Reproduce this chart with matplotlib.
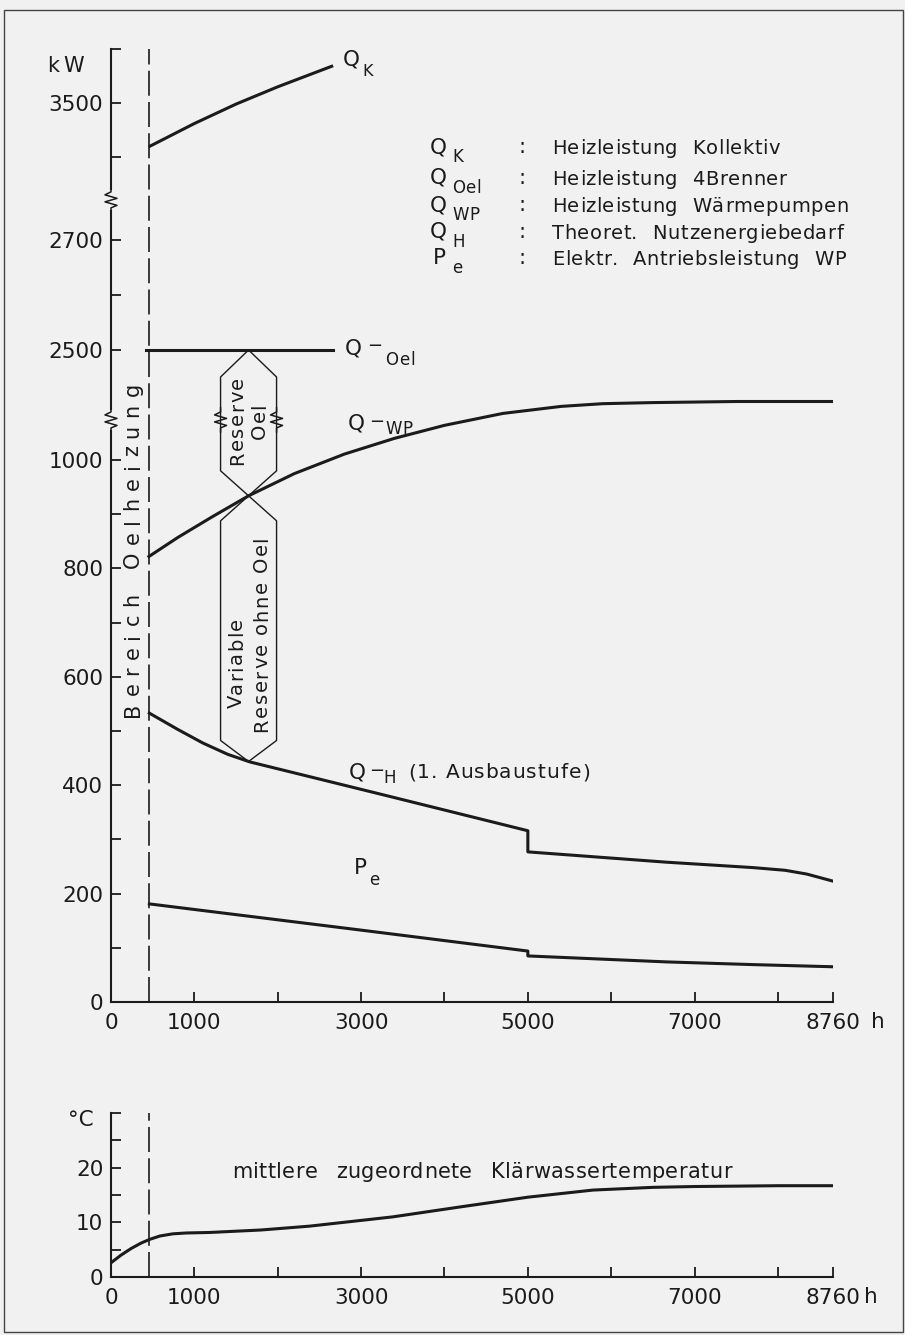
import numpy as np
import matplotlib
matplotlib.use("Agg")
import matplotlib.pyplot as plt
from matplotlib.transforms import IdentityTransform
from matplotlib.lines import Line2D
from matplotlib.patches import Rectangle, Polygon
from matplotlib import font_manager
from matplotlib.ft2font import FT2Font

FONT = 'DejaVu Sans'
plt.rcParams['font.family'] = [FONT]
plt.rcParams['lines.scale_dashes'] = False

# ---------------- data ----------------
hours_qk = [467, 1000, 1500, 2000, 2647]
q_k = [3420, 3462, 3498, 3530, 3568]

hours_qoel = [420, 2660]
q_oel = [2500, 2500]

hours_qwp = [455, 800, 1200, 1650, 2200, 2800, 3400, 4000, 4700, 5400,
             5900, 6500, 7500, 8760]
q_wp = [822, 857, 894, 934, 975, 1011, 1040, 1064, 1086, 1099,
        1104, 1106, 1108, 1108]

hours_qh = [460, 800, 1100, 1400, 1665, 3220, 5000, 5000, 6660, 7700, 8100, 8400, 8760]
q_h = [533, 503, 478, 457, 443, 384, 316, 277, 258, 248, 243, 236, 223]

hours_pe = [460, 2980, 5000, 5000, 6660, 7700, 8760]
p_e = [181, 133, 94, 85, 74, 69, 65]

hours_t = [0, 120, 240, 360, 467, 587, 743, 900, 1190, 1800, 2380, 3380,
           4180, 5000, 5780, 6500, 7000, 8000, 8760]
temp_c = [2.6, 4.0, 5.2, 6.2, 6.9, 7.5, 7.9, 8.05, 8.15, 8.6, 9.3, 11.0,
          12.8, 14.6, 15.9, 16.4, 16.55, 16.7, 16.7]

oil_limit_h = 460        # dashed line "Bereich Oelheizung"
reserve_h = 1650         # position of the reserve markers

kw_ticks = [0, 100, 200, 300, 400, 500, 600, 700, 800, 900, 1000,
            2500, 2600, 2700, 3400, 3500, 3600]
kw_labels = ['0', '', '200', '', '400', '', '600', '', '800', '', '1000',
             '2500', '', '2700', '', '3500', '']
h_ticks = [0, 1000, 2000, 3000, 4000, 5000, 6000, 7000, 8000, 8760]
h_labels = ['0', '1000', '', '3000', '', '5000', '', '7000', '', '8760']
t_ticks = [0, 5, 10, 15, 20, 25, 30]
t_labels = ['0', '', '10', '', '20', '', '']

legend_sym = [('Q', 'K'), ('Q', 'Oel'), ('Q', 'WP'), ('Q', 'H'), ('P', 'e')]
legend_txt = ['Heizleistung Kollektiv', 'Heizleistung 4Brenner',
              'Heizleistung Wärmepumpen', 'Theoret. Nutzenergiebedarf',
              'Elektr. Antriebsleistung WP']

# ---------------- styling ----------------
BG = '#f1f1f1'
INK = '#1b1b1b'
W, H = 905, 1335

# broken y scale (piecewise linear) and slightly compressed end of x axis
Y_V = [0, 1120, 2420, 2790, 3340, 3620]
Y_U = [0, 607.0, 608.0, 811.5, 812.6, 963.8]
X_V = [0, 8000, 8760]
X_U = [0, 8000, 8660]


def yf(v):
    return np.interp(v, Y_V, Y_U)


def yi(u):
    return np.interp(u, Y_U, Y_V)


def xf(v):
    return np.interp(v, X_V, X_U)


def xi(u):
    return np.interp(u, X_U, X_V)


fig = plt.figure(figsize=(W / 100, H / 100), dpi=100, facecolor=BG)


def fx(px):
    return px / W


def fy(py):
    return 1 - py / H


def ftext(xp, yp, s, size=14, **kw):
    kw.setdefault('va', 'center')
    kw.setdefault('ha', 'left')
    return fig.text(fx(xp), fy(yp), s, fontsize=size, color=INK, **kw)


_ft = FT2Font(font_manager.findfont(font_manager.FontProperties(family=FONT)))


def adv(ch, size):
    _ft.set_size(size, 100)
    g = _ft.load_char(ord(ch))
    return g.linearHoriAdvance / 65536.0


def tracked(xp, yp, s, size, track=0.0, space=None, rotation=0, ha='left'):
    """letter-spaced text; yp (or xp when rotated) is the centre of the caps"""
    advs = [(space if (c == ' ' and space is not None) else adv(c, size)) for c in s]
    total = sum(advs) + track * (len(s) - 1)
    pos = {'left': 0.0, 'center': -total / 2, 'right': -total}[ha]
    em = size * 100 / 72
    for c, a in zip(s, advs):
        if c != ' ':
            if rotation == 0:
                fig.text(fx(xp + pos), fy(yp + 0.365 * em), c, fontsize=size,
                         color=INK, ha='left', va='baseline')
            else:
                fig.text(fx(xp + 0.365 * em), fy(yp - pos), c, fontsize=size,
                         color=INK, ha='left', va='baseline', rotation=90,
                         rotation_mode='anchor')
        pos += a + track


def style_axes(a):
    a.set_facecolor('none')
    for side in ('top', 'right'):
        a.spines[side].set_visible(False)
    for side in ('left', 'bottom'):
        a.spines[side].set_linewidth(1.5)
        a.spines[side].set_color(INK)
    a.tick_params(direction='in', length=7.5, width=1.3, colors=INK,
                  labelsize=15.5, labelcolor=INK)
    a.tick_params(axis='y', pad=5.5)
    a.tick_params(axis='x', pad=8)


# ---------------- main chart ----------------
ax = fig.add_axes([fx(111), fy(1002), (833 - 111) / W, (1002 - 49) / H])
ax.set_xscale('function', functions=(xf, xi))
ax.set_yscale('function', functions=(yf, yi))
ax.set_xlim(0, 8760)
ax.set_ylim(0, 3600)
style_axes(ax)
ax.set_xticks(h_ticks)
ax.set_xticklabels(h_labels)
ax.set_yticks(kw_ticks)
ax.set_yticklabels(kw_labels)
ax.minorticks_off()

lw = 2.2
for xs, ys in ((hours_qk, q_k), (hours_qoel, q_oel), (hours_qwp, q_wp),
               (hours_qh, q_h), (hours_pe, p_e)):
    ax.plot(xs, ys, color=INK, lw=lw, solid_joinstyle='round')
ax.axvline(oil_limit_h, color=INK, lw=1.2, linestyle=(0, (18, 4.5)))

# helpers in display (pixel) coordinates
ID = IdentityTransform()


def disp(a, x, y):
    return a.transData.transform((x, y))


def draw_pix(points, lw_=1.0, fill=None):
    pts = np.array(points)
    if fill is not None:
        fig.add_artist(Polygon(pts, closed=True, transform=ID,
                               facecolor=fill, edgecolor='none', zorder=5))
    else:
        fig.add_artist(Line2D(pts[:, 0], pts[:, 1], transform=ID,
                              color=INK, lw=lw_, zorder=6))


def zigzag(cx, cy):
    draw_pix([(cx - 4, cy - 10), (cx + 4, cy - 10), (cx + 4, cy + 10), (cx - 4, cy + 10)], fill=BG)
    z = [(0, 12), (0, 8), (-6, 5), (6, 1.5), (-6, -2), (6, -5.5), (0, -8), (0, -12)]
    draw_pix([(cx + dx, cy + dy) for dx, dy in z], lw_=1.1)


# axis breaks
for v in (1074, 2773):
    p = disp(ax, 0, v)
    zigzag(p[0], p[1])

# reserve hexagons
qwp_r = float(np.interp(reserve_h, hours_qwp, q_wp))
qh_r = float(np.interp(reserve_h, hours_qh[:5], q_h[:5]))
T = disp(ax, reserve_h, q_oel[0])
B = disp(ax, reserve_h, qwp_r)
B2 = disp(ax, reserve_h, qh_r)
hw = 28
upper = [T, (T[0] + hw, T[1] - 27), (B[0] + hw, B[1] + 25), B,
         (B[0] - hw, B[1] + 25), (T[0] - hw, T[1] - 27), T]
lower = [B, (B[0] + hw, B[1] - 25), (B2[0] + hw, B2[1] + 21), B2,
         (B2[0] - hw, B2[1] + 21), (B[0] - hw, B[1] - 25), B]
draw_pix(upper, lw_=1.0)
draw_pix(lower, lw_=1.0)
pb = disp(ax, 0, 1074)
zigzag(T[0] - hw, pb[1])
zigzag(T[0] + hw, pb[1])

tracked(236, 421, 'Reserve', 14, track=1.5, rotation=90, ha='center')
tracked(258, 421, 'Oel', 14, track=1.5, rotation=90, ha='center')
tracked(235, 663, 'Variable', 14, track=1.5, rotation=90, ha='center')
tracked(260, 634, 'Reserve ohne Oel', 14, track=1.5, space=6, rotation=90, ha='center')
tracked(131, 550, 'Bereich Oelheizung', 15, track=7.5, space=10, rotation=90, ha='center')

# axis unit labels
tracked(84, 64, 'k W', 15, track=0.5, space=3, ha='right')
ftext(871, 1022, 'h', size=15.5)

# curve labels
ftext(343, 59, 'Q', size=15.5)
ftext(362, 71, 'K', size=11.5)
ftext(345, 348, 'Q', size=15.5)
ftext(367, 346, '−', size=13)
tracked(385, 359, 'Oel', 12, track=0.8)
ftext(348, 424, 'Q', size=15.5)
ftext(369, 422, '−', size=13)
tracked(385, 428, 'WP', 12, track=0.5)
ftext(349, 773, 'Q', size=15.5)
ftext(369, 771, '−', size=13)
ftext(383, 778, 'H', size=12)
tracked(408, 771, '(1. Ausbaustufe)', 14.5, track=1.0)
ftext(354, 868, 'P', size=15.5)
ftext(369, 880, 'e', size=12)

# legend block
legend_rows = [147, 178, 205, 232, 258]
for yy, (s, sub), txt in zip(legend_rows, legend_sym, legend_txt):
    ftext(430 if s == 'Q' else 433, yy, s, size=15.5)
    tracked(452, yy + 9, sub, 12, track=0.5)
    ftext(518, yy, ':', size=15)
    tracked(552, yy, txt, 14, track=0.5, space=14)

# ---------------- temperature chart ----------------
ax2 = fig.add_axes([fx(111), fy(1277), (833 - 111) / W, (1277 - 1113) / H])
ax2.set_xscale('function', functions=(xf, xi))
ax2.set_xlim(0, 8760)
ax2.set_ylim(0, 30)
style_axes(ax2)
ax2.set_xticks(h_ticks)
ax2.set_xticklabels(h_labels)
ax2.set_yticks(t_ticks)
ax2.set_yticklabels(t_labels)
ax2.minorticks_off()
ax2.plot(hours_t, temp_c, color=INK, lw=lw, solid_joinstyle='round')
ax2.axvline(oil_limit_h, color=INK, lw=1.2, linestyle=(0, (18, 4.5)))
ftext(68, 1120, '°C', size=15.5)
ftext(864, 1297, 'h', size=15.5)
tracked(232, 1170, 'mittlere zugeordnete Klärwassertemperatur', 15, track=0.4, space=18)

# page frame
fig.add_artist(Rectangle((fx(4), fy(1332)), (903 - 4) / W, (1332 - 10) / H,
                         transform=fig.transFigure, fill=False,
                         edgecolor='#444444', lw=1.0))

fig.savefig('out.png', dpi=100, facecolor=BG)
